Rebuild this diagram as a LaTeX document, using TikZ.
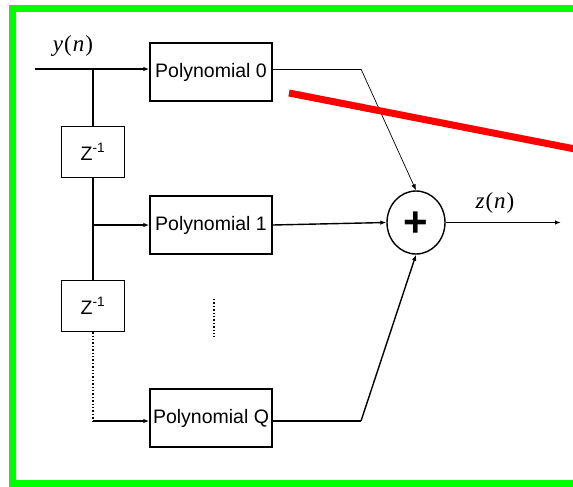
\documentclass[tikz,border=0pt]{standalone}
\usepackage{fontspec}
\setmainfont{Liberation Sans}
\newfontfamily\serifit{Liberation Serif}
\usetikzlibrary{arrows.meta,shapes.geometric}
\definecolor{framegreen}{RGB}{0,255,0}
\definecolor{strikered}{RGB}{255,0,0}
\begin{document}
\begin{tikzpicture}[x=1pt,y=-1pt,
  blk/.style={draw,line width=1.4pt,minimum width=122pt,minimum height=58pt,inner sep=0pt,font=\fontsize{19.5}{19.5}\selectfont},
  zblk/.style={draw,line width=1.4pt,minimum width=63pt,minimum height=51pt,inner sep=0pt,font=\fontsize{19.5}{19.5}\selectfont},
  sumnode/.style={draw,ellipse,line width=1.4pt,minimum width=58pt,minimum height=63pt,inner sep=0pt,font=\fontsize{42}{42}\selectfont\bfseries},
  wire/.style={line width=1.4pt},
  thinwire/.style={line width=0.7pt},
  arr/.style={-{Latex[length=6pt,width=4.5pt]}},
  mathlbl/.style={font=\fontsize{23}{23}\selectfont\serifit, inner sep=0pt}
]
\useasboundingbox (0,0) rectangle (573,487);
\fill[white] (0,0) rectangle (573,487);
% green frame
\draw[framegreen,line width=7pt] (620,9) -- (12,9) -- (12,483.5) -- (620,483.5);
% nodes
\node[blk] (p0) at (211,72) {Polynomial 0};
\node[blk] (p1) at (211,225) {Polynomial 1};
\node[blk] (pq) at (211,418) {Polynomial Q};
\node[zblk] (z1) at (93,152) {Z\textsuperscript{-1}};
\node[zblk] (z2) at (93,306) {Z\textsuperscript{-1}};
\node[sumnode] (s) at (416,222.5) {};
\node[font=\fontsize{42}{42}\selectfont\bfseries,inner sep=0pt] (plus) at (416,224) {+};
\node[mathlbl] (yl) at (73,46) {\textit{y}\kern1pt(\kern1pt\textit{n}\kern1pt)};
\node[mathlbl] (zl) at (495,203) {\textit{z}\kern1pt(\kern1pt\textit{n}\kern1pt)};
% coordinates
\coordinate (in) at (35,69);
\coordinate (b0) at (93,69);
\coordinate (b1) at (93,225);
\coordinate (bq) at (93,421);
\coordinate (k0) at (361,69);
\coordinate (kq) at (361,421);
\coordinate (out) at (561,222.5);
\coordinate (d1) at (214,299);
\coordinate (d2) at (214,337);
% wires
\draw[wire,arr] (in) -- (p0.west |- in);
\draw[wire] (b0) -- (z1.north);
\draw[wire] (z1.south) -- (z2.north);
\draw[wire,arr] (b1) -- (p1.west |- b1);
\draw[wire,dotted] (z2.south) -- (bq);
\draw[wire,arr] (bq) -- (pq.west |- bq);
\draw[thinwire] (p0.east |- k0) -- (k0);
\draw[thinwire,arr] (k0) -- (s.north);
\draw[wire,arr] (p1.east) -- (s.west);
\draw[wire] (pq.east |- kq) -- (kq);
\draw[wire,arr] (kq) -- (s.south);
\draw[wire,arr] (s.east) -- (out);
\draw[wire,dotted] (d1) -- (d2);
% red strike line
\draw[strikered,line width=7pt] (289,93) -- (580,150);
\end{tikzpicture}
\end{document}
